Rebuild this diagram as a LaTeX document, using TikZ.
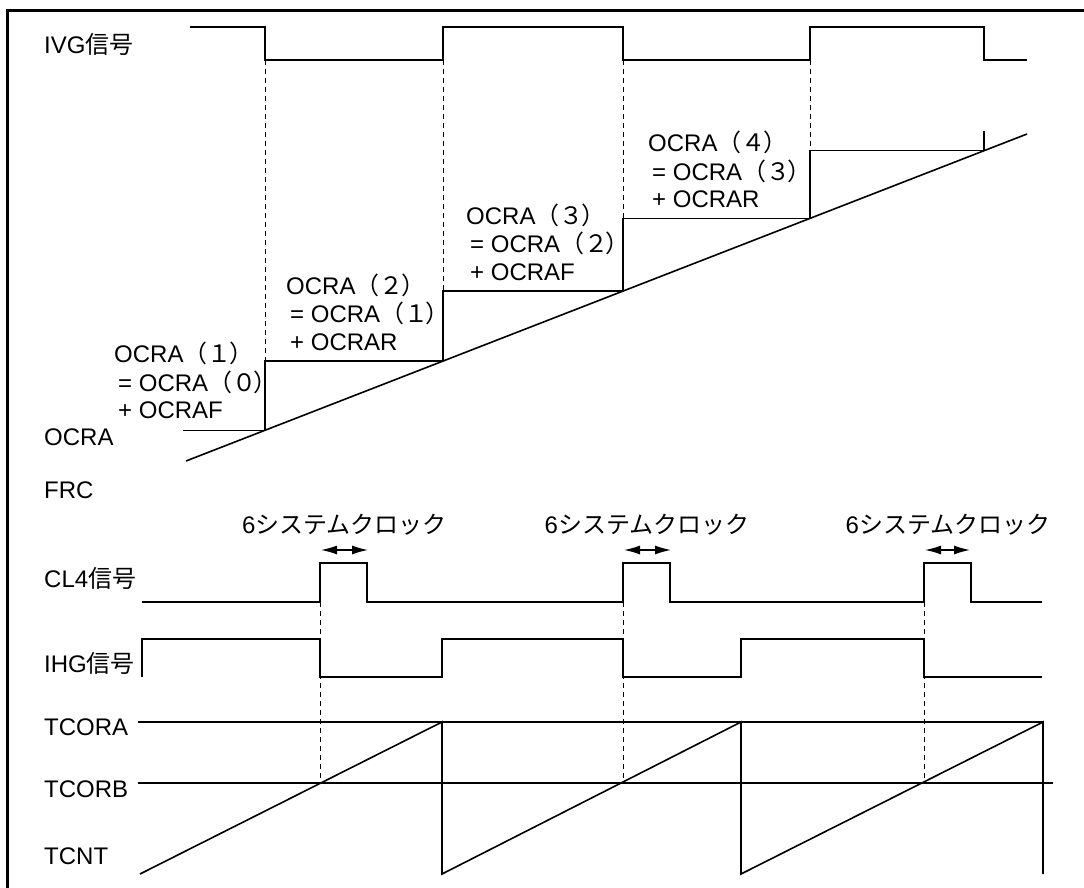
\documentclass[tikz,border=0pt]{standalone}
\usepackage{fontspec}
\setmainfont{Liberation Sans}
\newfontfamily\jp{Noto Sans CJK JP}
\usetikzlibrary{arrows.meta}
\newcommand{\parnum}[1]{{\jp （#1\kern-2.5pt）}}
\tikzset{
  sig/.style={line width=1.6pt, line join=miter},
  guide/.style={line width=0.9pt, dash pattern=on 5pt off 4pt},
  lbl/.style={anchor=west, inner sep=0pt, font=\fontsize{24}{28}\selectfont},
  ctxt/.style={anchor=center, inner sep=0pt, font=\fontsize{24}{28}\selectfont},
  dbl/.style={line width=1.3pt, {Latex[length=16pt,width=9pt]}-{Latex[length=16pt,width=9pt]}}
}
\begin{document}
\begin{tikzpicture}[x=1pt,y=-1pt]
\useasboundingbox (0,0) rectangle (1084,888);
% frame (left and top visible)
\draw[line width=3pt] (7.5,890) -- (7.5,10.5) -- (1086,10.5);

% ---------- labels ----------
\node[lbl] (lIVG) at (44,44) {IVG{\jp 信号}};
\node[lbl] (lOCRA) at (44,437) {OCRA};
\node[lbl] (lFRC) at (44,490) {FRC};
\node[lbl] (lCL4) at (44,578) {CL4{\jp 信号}};
\node[lbl] (lIHG) at (44,663) {IHG{\jp 信号}};
\node[lbl] (lTCORA) at (44,727) {TCORA};
\node[lbl] (lTCORB) at (44,789) {TCORB};
\node[lbl] (lTCNT) at (44,856) {TCNT};

% ---------- IVG signal ----------
\draw[sig] (190,27) -- (265,27) -- (265,60) -- (443,60) -- (443,27) -- (623,27)
  -- (623,60) -- (810,60) -- (810,27) -- (984,27) -- (984,60) -- (1027,60);

% ---------- OCRA staircase ----------
\draw[sig] (183,430.3) -- (265,430.3) -- (265,361.1) -- (443,361.1) -- (443,291.1)
  -- (623,291.1) -- (623,218.4) -- (810,218.4) -- (810,150.7) -- (984,150.7) -- (984,131);

% ---------- FRC ramp ----------
\draw[sig] (186,461) -- (1027,134);

% ---------- guides (top) ----------
\draw[guide] (265,60) -- (265,361.1);
\draw[guide] (443,60) -- (443,291.1);
\draw[guide] (623,60) -- (623,218.4);
\draw[guide] (810,60) -- (810,150.7);

% ---------- OCRA texts ----------
\node[lbl] (a1) at (114,353) {OCRA\parnum{１}};
\node[lbl] (a2) at (118,382) {= OCRA\parnum{０}};
\node[lbl] (a3) at (118,410.5) {+ OCRAF};

\node[lbl] (b1) at (286,285) {OCRA\parnum{２}};
\node[lbl] (b2) at (290,313.5) {= OCRA\parnum{１}};
\node[lbl] (b3) at (290,342) {+ OCRAR};

\node[lbl] (c1) at (466,215) {OCRA\parnum{３}};
\node[lbl] (c2) at (470,243.5) {= OCRA\parnum{２}};
\node[lbl] (c3) at (470,272) {+ OCRAF};

\node[lbl] (d1) at (648,142.5) {OCRA\parnum{４}};
\node[lbl] (d2) at (652,171) {= OCRA\parnum{３}};
\node[lbl] (d3) at (652,199.5) {+ OCRAR};

% ---------- 6 system clock labels ----------
\node[ctxt] (s1) at (344.5,525) {6{\jp システムクロック}};
\node[ctxt] (s2) at (647,525) {6{\jp システムクロック}};
\node[ctxt] (s3) at (948,525) {6{\jp システムクロック}};
\coordinate (p1a) at (321,550); \coordinate (p1b) at (368,550);
\coordinate (p2a) at (624,550); \coordinate (p2b) at (671,550);
\coordinate (p3a) at (925,550); \coordinate (p3b) at (970,550);
\draw[dbl] (p1a) -- (p1b);
\draw[dbl] (p2a) -- (p2b);
\draw[dbl] (p3a) -- (p3b);

% ---------- CL4 signal ----------
\draw[sig] (142,602) -- (320,602) -- (320,563) -- (367,563) -- (367,602) -- (623,602)
  -- (623,563) -- (670,563) -- (670,602) -- (924,602) -- (924,563) -- (971,563)
  -- (971,602) -- (1042,602);

% ---------- IHG signal ----------
\draw[sig] (142,677) -- (142,639) -- (320,639) -- (320,677) -- (442,677) -- (442,639)
  -- (623,639) -- (623,677) -- (741,677) -- (741,639) -- (924,639) -- (924,677) -- (1042,677);

% ---------- TCORA / TCORB ----------
\draw[sig] (138,722) -- (1043,722);
\draw[sig] (138,783) -- (1053,783);

% ---------- TCNT ----------
\draw[sig] (140,874) -- (442,722) -- (442,874) -- (741,722) -- (741,874) -- (1043,722) -- (1043,874);

% ---------- guides (bottom) ----------
\draw[guide] (320,602) -- (320,783);
\draw[guide] (623,602) -- (623,783);
\draw[guide] (924,602) -- (924,783);
\end{tikzpicture}
\end{document}
